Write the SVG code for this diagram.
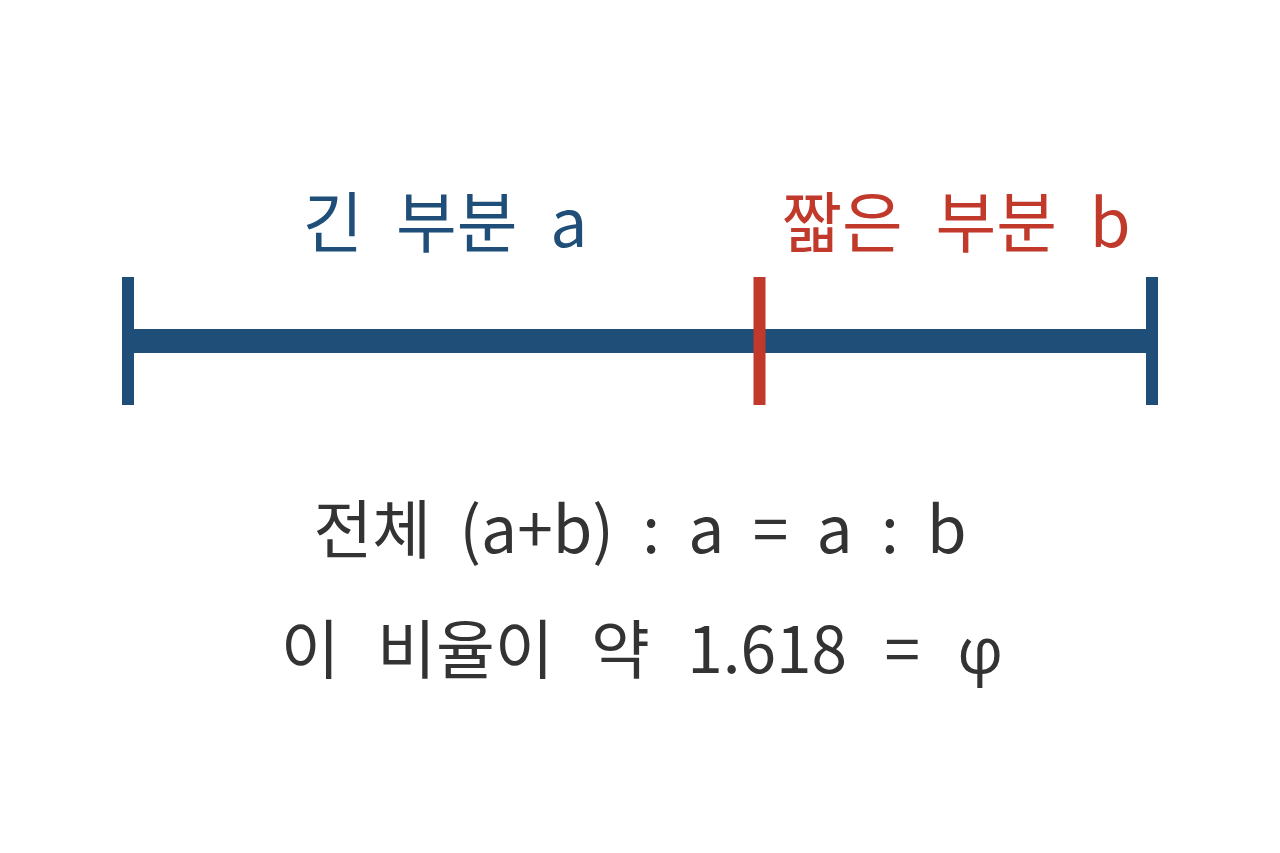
<svg xmlns="http://www.w3.org/2000/svg" width="1280" height="853" viewBox="0 0 1280 853">
<style>
.t{font-family:"Noto Sans CJK KR","Noto Sans",sans-serif;text-anchor:middle}
.lbl{font-size:66px;word-spacing:18px}
.big{font-size:64px}
.blue{fill:#1f4e79}
.red{fill:#c0392b}
.dark{fill:#333333}
.phi{font-family:"Open Sans","Roboto",sans-serif}
</style>
<rect width="1280" height="853" fill="#ffffff"/>
<g id="connectors">
<rect id="main-bar" x="128" y="329" width="1024" height="24" fill="#1f4e79"/>
</g>
<g id="tick-left"><rect x="122" y="277" width="12" height="128" fill="#1f4e79"/></g>
<g id="tick-right"><rect x="1146" y="277" width="12" height="128" fill="#1f4e79"/></g>
<g id="tick-mid"><rect x="753.5" y="277" width="12" height="128" fill="#c0392b"/></g>
<g id="label-a"><text class="t lbl blue" x="445" y="247">긴 부분 a</text></g>
<g id="label-b"><text class="t lbl red" x="956" y="247" word-spacing="26">짧은 부분 b</text></g>
<g id="formula"><text class="t big dark" x="640" y="553" word-spacing="14">전체 (a+b) : a = a : b</text></g>
<g id="ratio"><text class="t big dark" x="642" y="673" word-spacing="23">이 비율이 약 1.618 = <tspan class="phi">φ</tspan></text></g>
</svg>
